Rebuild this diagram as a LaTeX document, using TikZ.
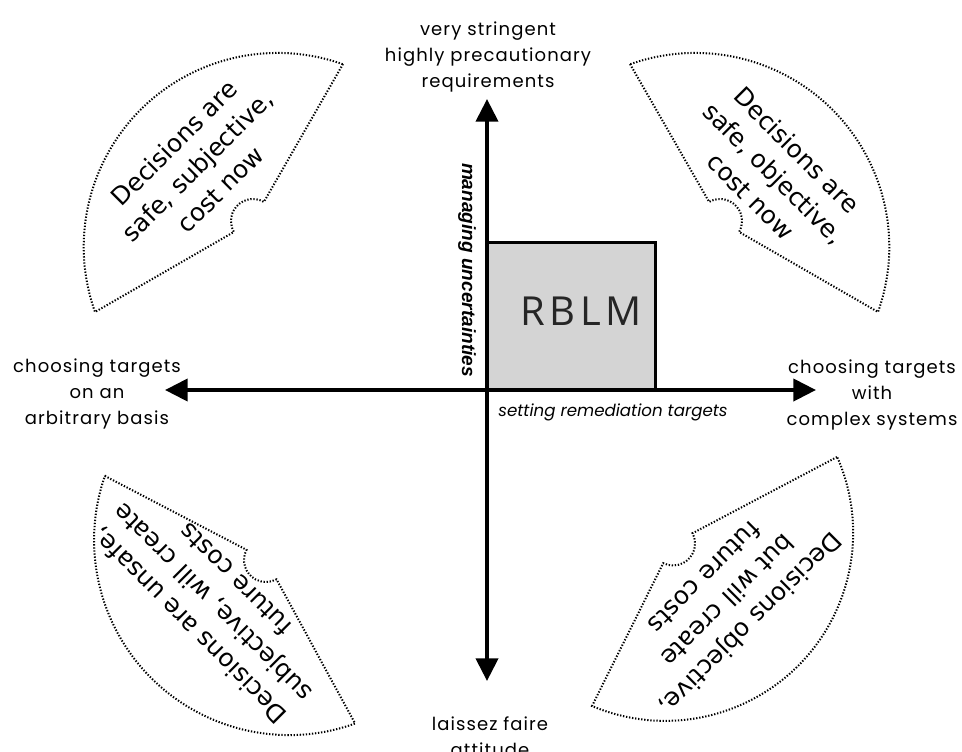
\documentclass[tikz,border=0pt]{standalone}
\usepackage{fontspec}
\setmainfont{Poppins}
\newfontfamily\lblfont[LetterSpace=6]{Poppins}
\newfontfamily\fanfont{DejaVu Sans}
\newfontfamily\axisfont{Liberation Sans}
\newfontfamily\rblmfont[LetterSpace=12]{Open Sans}
\usetikzlibrary{arrows.meta}
\begin{document}
\begin{tikzpicture}[x=0.75pt,y=-0.75pt,
  axis/.style={line width=3pt,{Triangle[length=17pt,width=16.5pt]}-{Triangle[length=17pt,width=16.5pt]}},
  fan/.style={line width=1.5pt,dash pattern=on 1pt off 1.3pt},
  fantext/.style={font=\fanfont\fontsize{18.5}{24.5}\selectfont,align=center,inner sep=0pt},
  lbl/.style={font=\lblfont\fontsize{13.5}{19.5}\selectfont,align=center,inner sep=0pt},
  box/.style={draw,line width=2.25pt,fill=black!17,minimum width=126pt,minimum height=111pt,inner sep=0pt},
  ]
\useasboundingbox (0,0) rectangle (962,751);
\clip (0,0) rectangle (962,751);

% RBLM box
\node[box] (rblm) at (571,316) {};
\node[font=\rblmfont\fontsize{30}{30}\selectfont,inner sep=0pt,text=black!85] (rblmtext) at (581,311) {RBLM};

% axes
\coordinate (xl) at (165,390);
\coordinate (xr) at (816,390);
\coordinate (yt) at (487,99);
\coordinate (yb) at (487,681);
\draw[axis] (xl) -- (xr);
\draw[axis] (yb) -- (yt);

% axis labels
\node[font=\axisfont\bfseries\itshape\fontsize{14.3}{14.3}\selectfont,rotate=-90,inner sep=0pt] (mu) at (467,270) {managing uncertainties};
\node[font=\itshape\fontsize{12.5}{12.5}\selectfont,inner sep=0pt] (srt) at (613,412) {setting remediation targets};

% end labels
\node[lbl] (toplbl) at (488,57) {very stringent\\highly precautionary\\requirements};
\node[lbl] (leftlbl) at (97,394) {choosing targets\\on an\\arbitrary basis};
\node[lbl] (rightlbl) at (872,395) {choosing targets\\with\\complex systems};
\node[lbl] (botlbl) at (490,737) {laissez faire\\attitude};

% fans
\draw[fan] (343,64) -- (263.9,201.9) arc[start angle=-60.2,end angle=-209.9,radius=22]
  -- (95,312) arc[start angle=160.4,end angle=289.6,radius=194] -- cycle;
\draw[fan] (630,64) -- (709.1,201.9) arc[start angle=240.2,end angle=389.9,radius=22]
  -- (878,312) arc[start angle=19.6,end angle=-109.6,radius=194] -- cycle;
\draw[fan] (104.8,475.9) -- (246.5,549.8) arc[start angle=207.6,end angle=61.4,radius=22]
  -- (355.1,723.5) arc[start angle=70.2,end angle=199.2,radius=195] -- cycle;
\draw[fan] (837,457) -- (692.5,533.2) arc[start angle=-27.8,end angle=116.5,radius=22]
  -- (592,706) arc[start angle=112.9,end angle=-23.8,radius=188] -- cycle;

% fan texts
\node[fantext,rotate=45] (tl) at (197,166) {Decisions are\\safe, subjective,\\cost now};
\node[fantext,rotate=-45] (tr) at (774,173) {Decisions are\\safe, objective,\\cost now};
\node[fantext,rotate=135] (bl) at (212,603) {Decisions are unsafe,\\subjective, will create\\future costs};
\node[fantext,rotate=-135] (br) at (728,601) {Decisions objective,\\but will create\\future costs};
\end{tikzpicture}
\end{document}
